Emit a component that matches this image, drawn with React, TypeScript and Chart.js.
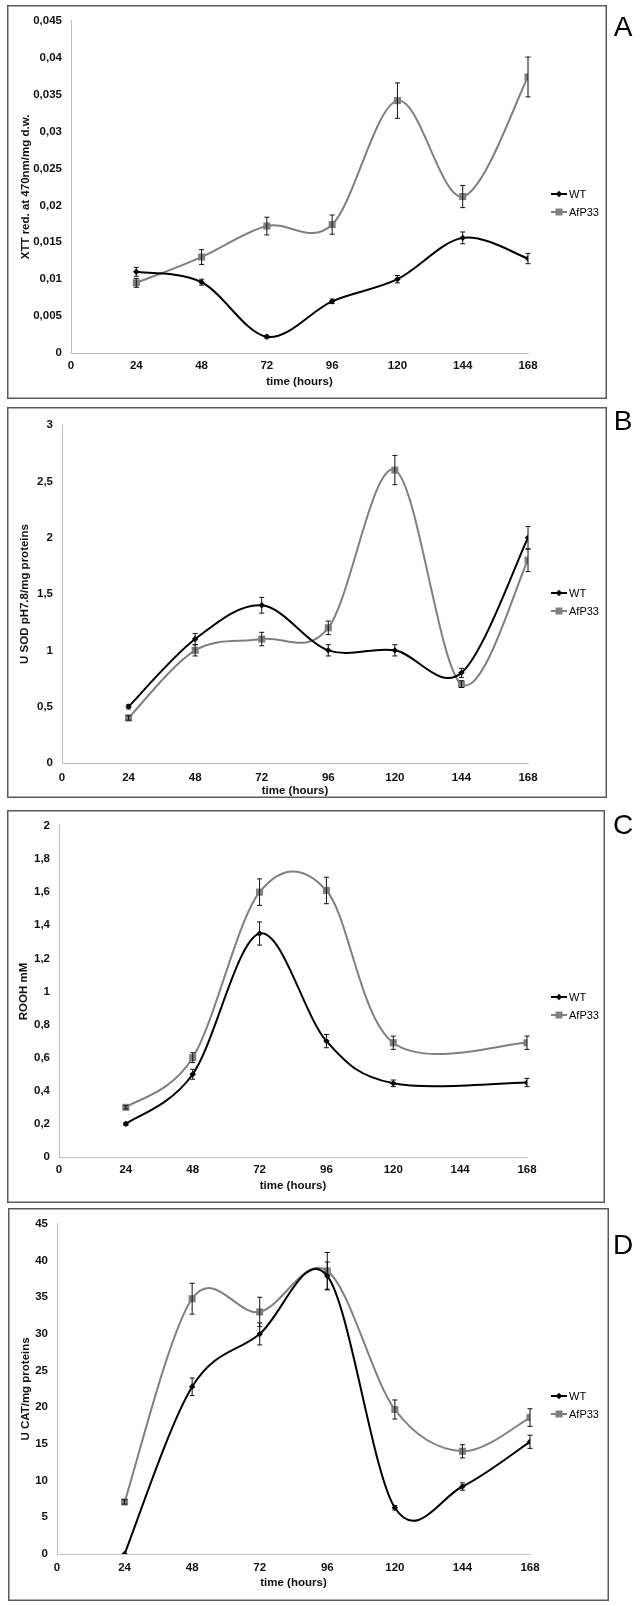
import React, { useEffect, useRef } from 'react';
import { Chart, registerables } from 'chart.js';

Chart.register(...registerables);
Chart.defaults.font.family = '"Liberation Sans", Arial, sans-serif';

// ---------- data ----------
const HOURS = [24, 48, 72, 96, 120, 144, 168];
const X_TICKS = [0, 24, 48, 72, 96, 120, 144, 168];
const X_TICK_LABELS = ['0', '24', '48', '72', '96', '120', '144', '168'];
const SERIES_NAMES = ['WT', 'AfP33'];
const X_TITLE = 'time (hours)';

// Panel A – XTT
const A_WT = [0.011, 0.0096, 0.0022, 0.007, 0.01, 0.0156, 0.0128];
const A_WT_ERR = [0.0006, 0.0004, 0.0002, 0.0003, 0.0005, 0.0008, 0.0007];
const A_AF = [0.0095, 0.013, 0.0172, 0.0174, 0.0342, 0.0212, 0.0374];
const A_AF_ERR = [0.0006, 0.001, 0.0012, 0.0013, 0.0024, 0.0015, 0.0027];
const A_Y_TICKS = [0, 0.005, 0.01, 0.015, 0.02, 0.025, 0.03, 0.035, 0.04, 0.045];
const A_Y_LABELS = ['0', '0,005', '0,01', '0,015', '0,02', '0,025', '0,03', '0,035', '0,04', '0,045'];
const A_Y_TITLE = 'XTT red. at 470nm/mg d.w.';

// Panel B – SOD
const B_WT = [0.5, 1.1, 1.4, 1.0, 1.0, 0.8, 2.0];
const B_WT_ERR = [0.02, 0.05, 0.07, 0.05, 0.05, 0.04, 0.1];
const B_AF = [0.4, 1.0, 1.1, 1.2, 2.6, 0.7, 1.8];
const B_AF_ERR = [0.02, 0.05, 0.06, 0.06, 0.13, 0.03, 0.1];
const B_Y_TICKS = [0, 0.5, 1, 1.5, 2, 2.5, 3];
const B_Y_LABELS = ['0', '0,5', '1', '1,5', '2', '2,5', '3'];
const B_Y_TITLE = 'U SOD pH7.8/mg proteins';

// Panel C – ROOH (no value at 144 h)
const C_WT = [0.2, 0.5, 1.35, 0.7, 0.445, null, 0.45];
const C_WT_ERR = [0.01, 0.03, 0.07, 0.04, 0.02, null, 0.025];
const C_AF = [0.3, 0.6, 1.6, 1.61, 0.69, null, 0.69];
const C_AF_ERR = [0.01, 0.03, 0.08, 0.08, 0.04, null, 0.04];
const C_Y_TICKS = [0, 0.2, 0.4, 0.6, 0.8, 1, 1.2, 1.4, 1.6, 1.8, 2];
const C_Y_LABELS = ['0', '0,2', '0,4', '0,6', '0,8', '1', '1,2', '1,4', '1,6', '1,8', '2'];
const C_Y_TITLE = 'ROOH mM';

// Panel D – CAT
const D_WT = [0, 22.8, 30, 37.9, 6.3, 9.2, 15.3];
const D_WT_ERR = [0, 1.2, 1.5, 1.9, 0.3, 0.5, 0.9];
const D_AF = [7.1, 34.8, 33, 38.6, 19.7, 14.0, 18.6];
const D_AF_ERR = [0.3, 2.1, 2.0, 2.5, 1.3, 0.9, 1.2];
const D_Y_TICKS = [0, 5, 10, 15, 20, 25, 30, 35, 40, 45];
const D_Y_LABELS = ['0', '5', '10', '15', '20', '25', '30', '35', '40', '45'];
const D_Y_TITLE = 'U CAT/mg proteins';

// ---------- layout (page pixels) ----------
const PAGE_W = 641;
const PANELS = [
  { letter: 'A', wt: A_WT, wtErr: A_WT_ERR, af: A_AF, afErr: A_AF_ERR, yTicks: A_Y_TICKS, yLabels: A_Y_LABELS, yTitle: A_Y_TITLE,
    top: 5, bottom: 398, left: 7, right: 607, axisX: 71, plotTop: 16, plotBottom: 353, plotRight: 528,
    yTitleX: 26, xTitleY: 382, xTickPad: 6, legendY: 194, letterY: 28 },
  { letter: 'B', wt: B_WT, wtErr: B_WT_ERR, af: B_AF, afErr: B_AF_ERR, yTicks: B_Y_TICKS, yLabels: B_Y_LABELS, yTitle: B_Y_TITLE,
    top: 407, bottom: 797, left: 7, right: 607, axisX: 62, plotTop: 425, plotBottom: 763, plotRight: 528,
    yTitleX: 25, xTitleY: 791, xTickPad: 8, legendY: 593, letterY: 422 },
  { letter: 'C', wt: C_WT, wtErr: C_WT_ERR, af: C_AF, afErr: C_AF_ERR, yTicks: C_Y_TICKS, yLabels: C_Y_LABELS, yTitle: C_Y_TITLE,
    top: 810, bottom: 1202, left: 7, right: 605, axisX: 59, plotTop: 821, plotBottom: 1157, plotRight: 527,
    yTitleX: 24, xTitleY: 1186, xTickPad: 6, legendY: 997, letterY: 826 },
  { letter: 'D', wt: D_WT, wtErr: D_WT_ERR, af: D_AF, afErr: D_AF_ERR, yTicks: D_Y_TICKS, yLabels: D_Y_LABELS, yTitle: D_Y_TITLE,
    top: 1208, bottom: 1600, left: 8, right: 609, axisX: 57, plotTop: 1218, plotBottom: 1554, plotRight: 530,
    yTitleX: 26, xTitleY: 1583, xTickPad: 7, legendY: 1396, letterY: 1246 },
];

const WT_COLOR = '#000000';
const AF_COLOR = '#808080';
const TEXT_COLOR = '#111111';
const AXIS_COLOR = '#c0c0c0';
const TICK_FONT = { size: 11.5, weight: 'bold' as const };

// Excel-like Catmull-Rom smoothing
const splinePlugin = {
  id: 'crSpline',
  beforeDatasetDraw(chart: any, args: any) {
    const meta = args.meta;
    const line = meta.dataset;
    if (!line) return;
    const pts = meta.data.filter((p: any) => !p.skip);
    const n = pts.length;
    for (let i = 0; i < n; i++) {
      const p = pts[i];
      const prev = pts[Math.max(0, i - 1)];
      const next = pts[Math.min(n - 1, i + 1)];
      const dx = (next.x - prev.x) / 6;
      const dy = (next.y - prev.y) / 6;
      p.cp1x = p.x - dx; p.cp1y = p.y - dy;
      p.cp2x = p.x + dx; p.cp2y = p.y + dy;
    }
    line._pointsUpdated = true;
    line._path = undefined;
  },
};

const errorBarPlugin = {
  id: 'errBars',
  afterDatasetsDraw(chart: any) {
    const ctx = chart.ctx;
    const xs = chart.scales.x;
    const ys = chart.scales.y;
    ctx.save();
    ctx.strokeStyle = '#111111';
    ctx.lineWidth = 1;
    chart.data.datasets.forEach((ds: any) => {
      ds.data.forEach((pt: any, i: number) => {
        const e = ds.errors[i];
        if (pt.y == null || e == null || e === 0) return;
        const x = xs.getPixelForValue(pt.x);
        const y1 = ys.getPixelForValue(pt.y - e);
        const y2 = ys.getPixelForValue(pt.y + e);
        ctx.beginPath();
        ctx.moveTo(x, y1); ctx.lineTo(x, y2);
        ctx.moveTo(x - 2.5, y1); ctx.lineTo(x + 2.5, y1);
        ctx.moveTo(x - 2.5, y2); ctx.lineTo(x + 2.5, y2);
        ctx.stroke();
      });
    });
    ctx.restore();
  },
};

function makeDecorPlugin(cfg: any, H: number) {
  return {
    id: 'decor',
    afterDraw(chart: any) {
      const ctx = chart.ctx;
      ctx.save();
      // panel frame
      ctx.strokeStyle = '#5a5a5a';
      ctx.lineWidth = 1.5;
      ctx.strokeRect(cfg.left + 0.75, 0.75, cfg.right - cfg.left - 1.5, H - 1.5);
      // panel letter
      ctx.fillStyle = '#000';
      ctx.font = '28px "Liberation Sans", Arial, sans-serif';
      ctx.textAlign = 'center';
      ctx.textBaseline = 'middle';
      ctx.fillText(cfg.letter, 623, cfg.letterY - cfg.top);
      // legend
      ctx.font = '11px "Liberation Sans", Arial, sans-serif';
      ctx.textAlign = 'left';
      chart.data.datasets.forEach((ds: any, i: number) => {
        const y = cfg.legendY - cfg.top + i * 18;
        ctx.strokeStyle = ds.borderColor;
        ctx.lineWidth = 2;
        ctx.beginPath();
        ctx.moveTo(551, y); ctx.lineTo(567, y);
        ctx.stroke();
        ctx.fillStyle = ds.borderColor;
        const cx = 559;
        if (ds.pointStyle === 'rectRot') {
          ctx.beginPath();
          ctx.moveTo(cx, y - 3.2); ctx.lineTo(cx + 3.2, y); ctx.lineTo(cx, y + 3.2); ctx.lineTo(cx - 3.2, y);
          ctx.closePath();
          ctx.fill();
        } else {
          ctx.fillRect(cx - 3.5, y - 3.5, 7, 7);
        }
        ctx.fillStyle = '#000';
        ctx.fillText(ds.label, 569, y + 0.5);
      });
      ctx.restore();
    },
  };
}

function Panel({ cfg }: { cfg: any }) {
  const ref = useRef<HTMLCanvasElement>(null);
  const H = cfg.bottom - cfg.top + 1;
  useEffect(() => {
    const canvas = ref.current;
    if (!canvas) return;
    const chartBottom = cfg.plotBottom - cfg.top;
    const xScaleH = H - chartBottom;
    const xTitlePadBottom = H - (cfg.xTitleY - cfg.top) - 6.9;
    const chart = new Chart(canvas, {
      type: 'line',
      data: {
        datasets: [
          {
            label: SERIES_NAMES[0],
            data: HOURS.map((h, i) => ({ x: h, y: cfg.wt[i] })),
            errors: cfg.wtErr,
            borderColor: WT_COLOR,
            backgroundColor: WT_COLOR,
            borderWidth: 2,
            tension: 0.4,
            spanGaps: true,
            pointStyle: 'rectRot',
            pointRadius: 3.2,
            pointBorderWidth: 0,
            pointBackgroundColor: WT_COLOR,
            order: 1,
          } as any,
          {
            label: SERIES_NAMES[1],
            data: HOURS.map((h, i) => ({ x: h, y: cfg.af[i] })),
            errors: cfg.afErr,
            borderColor: AF_COLOR,
            backgroundColor: AF_COLOR,
            borderWidth: 2,
            tension: 0.4,
            spanGaps: true,
            pointStyle: 'rect',
            pointRadius: 5,
            pointBorderWidth: 0,
            pointBackgroundColor: AF_COLOR,
            order: 2,
          } as any,
        ],
      },
      options: {
        responsive: false,
        animation: false,
        devicePixelRatio: 1,
        events: [],
        layout: { padding: { top: cfg.plotTop - cfg.top, right: PAGE_W - cfg.plotRight, bottom: 0, left: 0 } },
        plugins: { legend: { display: false }, tooltip: { enabled: false } },
        scales: {
          x: {
            type: 'linear',
            min: 0,
            max: 168,
            afterBuildTicks: (s: any) => { s.ticks = X_TICKS.map((v) => ({ value: v })); },
            afterFit: (s: any) => { s.height = xScaleH; },
            ticks: {
              callback: (_v: any, i: number) => X_TICK_LABELS[i],
              font: TICK_FONT,
              color: TEXT_COLOR,
              padding: cfg.xTickPad,
              maxRotation: 0,
              autoSkip: false,
            },
            grid: { display: false, drawTicks: false },
            border: { color: AXIS_COLOR, width: 1 },
            title: {
              display: true,
              text: X_TITLE,
              font: TICK_FONT,
              color: TEXT_COLOR,
              padding: { top: 0, bottom: xTitlePadBottom },
            },
          },
          y: {
            type: 'linear',
            min: cfg.yTicks[0],
            max: cfg.yTicks[cfg.yTicks.length - 1],
            afterBuildTicks: (s: any) => { s.ticks = cfg.yTicks.map((v: number) => ({ value: v })); },
            afterFit: (s: any) => { s.width = cfg.axisX; },
            ticks: {
              callback: (_v: any, i: number) => cfg.yLabels[i],
              font: TICK_FONT,
              color: TEXT_COLOR,
              padding: 9,
              autoSkip: false,
            },
            grid: { display: false, drawTicks: false },
            border: { color: AXIS_COLOR, width: 1 },
            title: {
              display: true,
              text: cfg.yTitle,
              font: TICK_FONT,
              color: TEXT_COLOR,
              padding: { top: cfg.yTitleX - 6.9, bottom: 0 },
            },
          },
        },
      } as any,
      plugins: [splinePlugin, errorBarPlugin, makeDecorPlugin(cfg, H)],
    });
    return () => chart.destroy();
  }, []);
  return (
    <canvas
      ref={ref}
      width={PAGE_W}
      height={H}
      style={{ position: 'absolute', left: 0, top: cfg.top, width: PAGE_W, height: H, display: 'block' }}
    />
  );
}

export default function App() {
  return (
    <div style={{ position: 'absolute', left: 0, top: 0, width: PAGE_W, height: 1606, background: '#fff' }}>
      {PANELS.map((p) => (
        <Panel key={p.letter} cfg={p} />
      ))}
    </div>
  );
}
